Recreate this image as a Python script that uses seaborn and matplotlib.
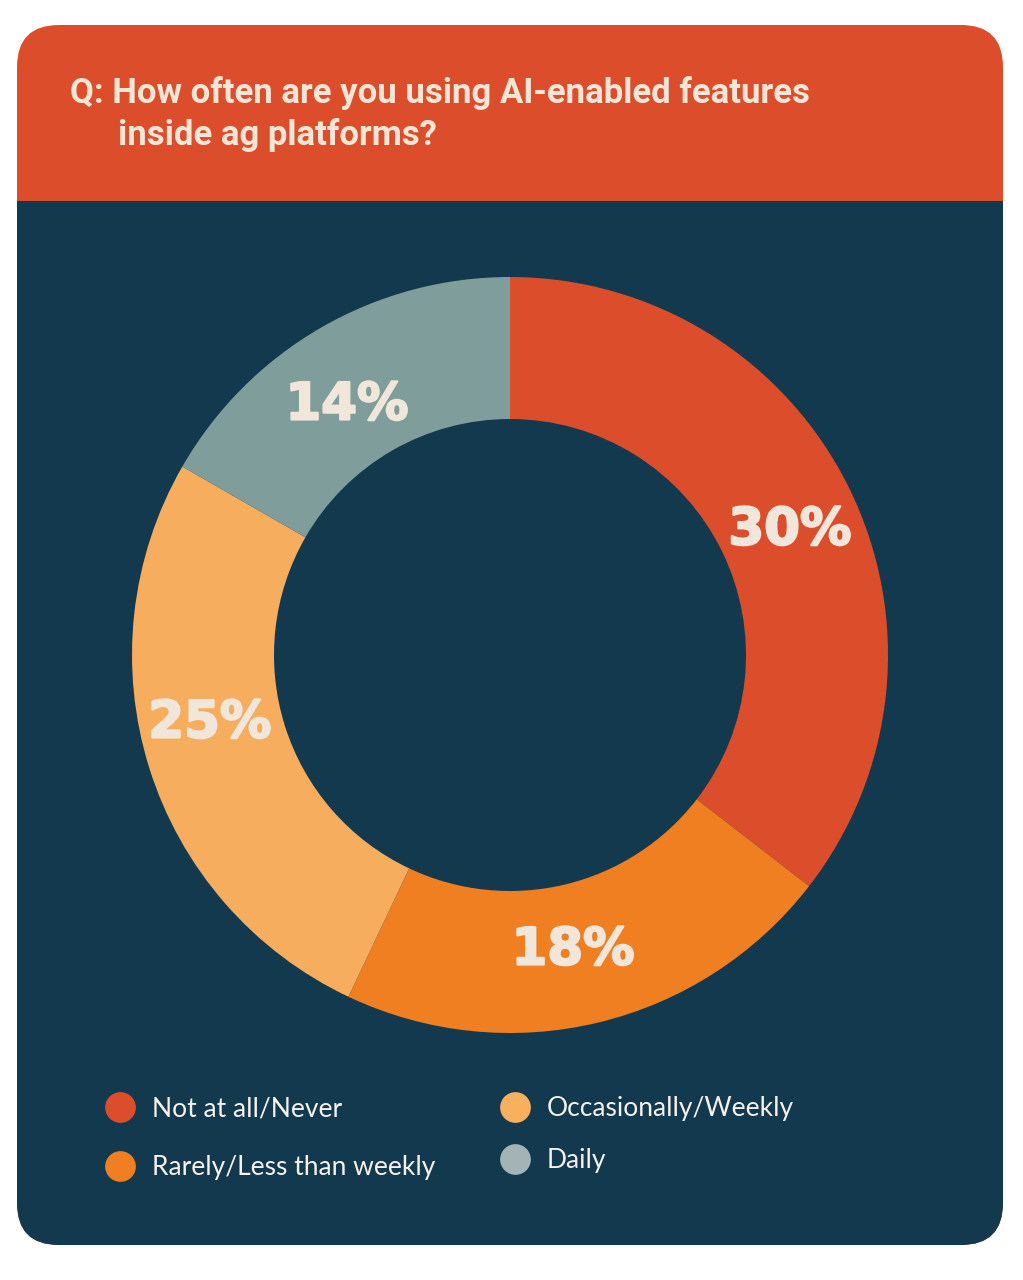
import numpy as np
import pandas as pd
import matplotlib.pyplot as plt
import matplotlib.patheffects as pe
import seaborn as sns
from matplotlib.patches import FancyBboxPatch, Rectangle

# survey answers, clockwise from 12 o'clock
answers = ["Not at all/Never", "Rarely/Less than weekly", "Occasionally/Weekly", "Daily"]
pct_labels = ["30%", "18%", "25%", "14%"]
# arc sizes as drawn in the source graphic (degrees of the ring)
arc_degrees = [127.7, 77.6, 94.6, 60.1]
slice_colors = ["#DC4E2B", "#F07F22", "#F7AD5E", "#7F9D9B"]
legend_colors = ["#DC4E2B", "#F07F22", "#F8AF5E", "#A3B3B6"]
title_lines = ["Q: How often are you using AI-enabled features", "inside ag platforms?"]

NAVY = "#13394E"
CREAM = "#F0E6DA"

df = pd.DataFrame({"answer": answers, "label": pct_labels, "arc": arc_degrees})

sns.set_theme(style="white")
plt.rcParams['font.family'] = ['Lato', 'DejaVu Sans']

W, H = 1023, 1280
fig = plt.figure(figsize=(W / 100, H / 100), dpi=100)
ax = fig.add_axes([0, 0, 1, 1])

# card: orange header + navy body, rounded corners
x0, x1, top, bot, head = 17, 1003, 25, 1245, 201
card = dict(boxstyle="round,pad=0,rounding_size=42", linewidth=0)
ax.add_patch(FancyBboxPatch((x0, H - bot), x1 - x0, bot - top, facecolor="#DC4E2B", **card))
body = FancyBboxPatch((x0, H - bot), x1 - x0, bot - top, facecolor=NAVY, **card)
ax.add_patch(body)
body.set_clip_path(Rectangle((0, 0), W, H - head, transform=ax.transData))

ax.text(70, H - 103, title_lines[0], color="#F3E6D6", fontsize=25, fontweight="bold",
        family=["Roboto", "DejaVu Sans"], va="baseline", ha="left")
ax.text(118, H - 145, title_lines[1], color="#F3E6D6", fontsize=25, fontweight="bold",
        family=["Roboto", "DejaVu Sans"], va="baseline", ha="left")

# donut
R_out, R_in = 378, 236
wedges, texts = ax.pie(df["arc"], colors=slice_colors, startangle=90, counterclock=False,
                       center=(510, H - 655), radius=R_out,
                       labels=df["label"],
                       labeldistance=(R_out + R_in) / 2 / R_out,
                       wedgeprops=dict(width=R_out - R_in, linewidth=0),
                       textprops=dict(color=CREAM, fontsize=37, fontweight="bold",
                                      family=["DejaVu Sans"]))
# label spots as placed in the source graphic
label_spots = [(790, 525), (573, 945), (210, 718), (347, 400)]
for t, (tx, ty) in zip(texts, label_spots):
    t.set_position((tx, H - ty))
    t.set_ha("center")
    t.set_va("center_baseline")
    t.set_path_effects([pe.withStroke(linewidth=1.6, foreground=CREAM)])

# legend, two columns
legend_pos = [(120, 1107), (120, 1166), (515, 1107), (515, 1159)]
for (lx, ly), name, col in zip(legend_pos, df["answer"], legend_colors):
    ax.scatter([lx], [H - ly], s=490, color=col, linewidths=0, zorder=3)
    ax.text(lx + 32, H - ly - 9, name, color="#F5F1EC", fontsize=19,
            va="baseline", ha="left")

ax.set_xlim(0, W)
ax.set_ylim(0, H)
ax.set_aspect("equal")
ax.axis("off")

fig.savefig("out.png", dpi=100, facecolor="white")
